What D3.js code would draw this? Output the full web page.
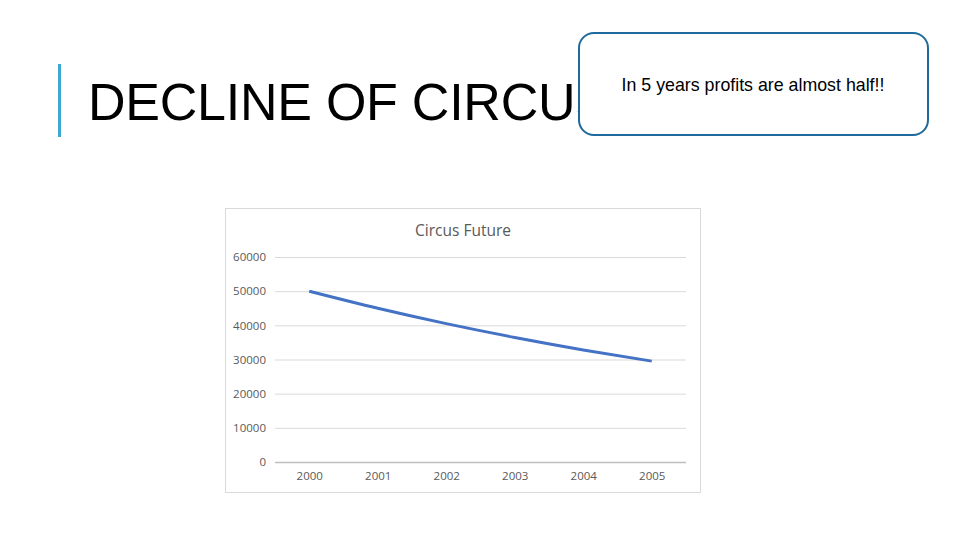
<!DOCTYPE html>
<html>
<head>
    <meta charset="utf-8">
    <script src="https://d3js.org/d3.v7.min.js"></script>
    <style>
        body { margin: 0; background: white; }
        svg { display: block; font-family: "Liberation Sans", Arial, sans-serif; }
    </style>
</head>
<body>
<svg width="960" height="540"></svg>
<script>
    // chart values
    let years = ["2000", "2001", "2002", "2003", "2004", "2005"];
    let profits = [50000, 45000, 40500, 36450, 32805, 29525];
    let yTicks = [0, 10000, 20000, 30000, 40000, 50000, 60000];

    let svg = d3.select("svg");

    // slide title with the accent bar
    svg.append("rect")
        .attr("x", 58).attr("y", 64)
        .attr("width", 3).attr("height", 73)
        .style("fill", "#3ea8d5");

    svg.append("text")
        .text("DECLINE OF CIRCUS")
        .attr("x", 88).attr("y", 120)
        .attr("font-size", "52px")
        .attr("textLength", 522)
        .attr("lengthAdjust", "spacing")
        .style("fill", "#000");

    // callout box sits on top of the title
    svg.append("rect")
        .attr("x", 579).attr("y", 33)
        .attr("width", 349).attr("height", 102)
        .attr("rx", 15)
        .style("fill", "white")
        .style("stroke", "#1f6a9c")
        .style("stroke-width", 2);

    svg.append("text")
        .text("In 5 years profits are almost half!!")
        .attr("x", 753).attr("y", 91)
        .attr("text-anchor", "middle")
        .attr("font-size", "17.8px")
        .style("fill", "#000");

    // chart frame
    svg.append("rect")
        .attr("x", 225.5).attr("y", 208.5)
        .attr("width", 475).attr("height", 284)
        .style("fill", "white")
        .style("stroke", "#d9d9d9");

    svg.append("text")
        .text("Circus Future")
        .attr("x", 463).attr("y", 236)
        .attr("text-anchor", "middle")
        .attr("font-family", "'Open Sans', 'DejaVu Sans', sans-serif")
        .attr("font-size", "15.5px")
        .style("fill", "#595959");

    let x = d3.scalePoint()
        .domain(years)
        .range([275, 686])
        .padding(0.5);

    let y = d3.scaleLinear()
        .domain([0, 60000])
        .range([462, 257]);

    // gridlines + y labels
    let yAxis = svg.append("g")
        .attr("transform", "translate(275,0)")
        .call(d3.axisLeft(y).tickValues(yTicks).tickSize(-411).tickPadding(9).tickFormat(d3.format("d")));

    yAxis.select(".domain").remove();
    yAxis.selectAll(".tick line")
        .style("stroke", d => d === 0 ? "#bfbfbf" : "#d9d9d9")
        .style("stroke-width", d => d === 0 ? 1.5 : 1);
    yAxis.selectAll(".tick text")
        .style("fill", "#595959")
        .attr("font-size", "11.5px")
        .attr("font-family", "'Open Sans', 'DejaVu Sans', sans-serif");

    let xAxis = svg.append("g")
        .attr("transform", "translate(0,462)")
        .call(d3.axisBottom(x).tickSize(0).tickPadding(10));

    xAxis.select(".domain").remove();
    xAxis.selectAll(".tick text")
        .style("fill", "#595959")
        .attr("font-size", "11.5px")
        .attr("font-family", "'Open Sans', 'DejaVu Sans', sans-serif");

    let line = d3.line()
        .x((d, i) => x(years[i]))
        .y(d => y(d))
        .curve(d3.curveMonotoneX);

    svg.append("path")
        .datum(profits)
        .attr("d", line)
        .style("fill", "none")
        .style("stroke", "#4472c4")
        .style("stroke-width", 3);
</script>
</body>
</html>
